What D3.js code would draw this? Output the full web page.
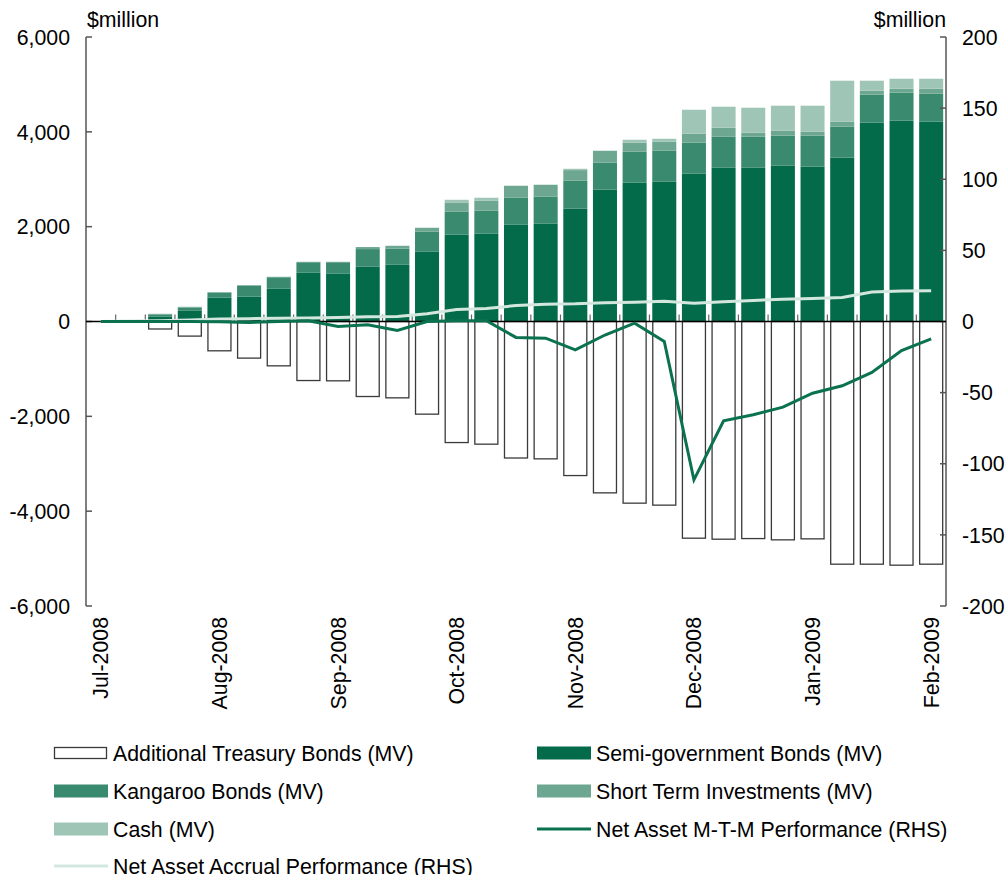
<!DOCTYPE html>
<html lang="en">
  <head>
    <meta charset="utf-8">
    <script src="https://d3js.org/d3.v7.min.js"></script>
    <style>
      body { margin: 0; background: #fff; }
      text { font-family: "Liberation Sans", Arial, sans-serif; fill: #000; }
    </style>
  </head>
  <body>
    <svg id="chart" width="1008" height="875"></svg>
    <script type="text/javascript">

    // weekly observations, Jul-2008 .. Feb-2009
    var weeks = d3.range(29);
    var tickLabels = ["Jul-2008","","","","Aug-2008","","","","Sep-2008","","","","Oct-2008","","","",
                      "Nov-2008","","","","Dec-2008","","","","Jan-2009","","","","Feb-2009"];

    // $million, left axis
    var semiGov   = [0,0,100,225,506,527,690,1027,1006,1154,1196,1470,1829,1850,2040,2061,2378,2779,2926,2947,3116,3242,3242,3285,3264,3454,4192,4234,4213];
    var kangaroo  = [0,0,50,70,100,230,243,222,243,373,344,422,485,485,570,570,590,569,654,654,654,655,655,633,654,654,591,591,591];
    var shortTerm = [0,0,12,15,14,10,10,10,10,43,57,85,197,211,253,253,225,253,190,190,190,190,84,105,84,105,84,84,105];
    var cash      = [0,0,0,0,0,0,0,0,0,0,0,0,56,64,0,0,28,0,63,63,506,443,527,528,549,865,211,211,211];
    var treasury  = [0,0,-158,-308,-618,-772,-935,-1245,-1251,-1582,-1610,-1954,-2553,-2587,-2879,-2897,-3249,-3614,-3831,-3873,-4570,-4591,-4578,-4605,-4584,-5118,-5118,-5139,-5118];

    // $million, right axis
    var mtm     = [0,0,0,0,-0.2,-0.7,0,0.5,-3.5,-2.3,-6.3,0,0.5,0.5,-11.2,-11.7,-19.9,-9.5,-1.2,-14,-111.3,-69.8,-65.6,-60.2,-50.4,-45.2,-35.8,-20.4,-12.2];
    var accrual = [0,0.3,0.6,1,1.7,2,2.3,2.5,2.8,3.3,3.5,5.4,8.4,9.2,11.2,12.2,12.4,13.1,13.6,14.3,12.9,13.8,14.8,15.7,16.2,16.9,20.7,21.4,21.6];

    var leftTicks = [-6000,-4000,-2000,0,2000,4000,6000];
    var rightTicks = [-200,-150,-100,-50,0,50,100,150,200];

    var colors = {
      semi: "#046b4a",
      kangaroo: "#3a8a6f",
      shortTerm: "#6da792",
      cash: "#9fc5b6",
      mtm: "#0b7250",
      accrual: "#d3e7df"
    };

    var fontSize = 21.3;
    var svg = d3.select("#chart");
    var plotLeft = 86, plotRight = 946, plotTop = 37, plotBottom = 606;

    var x = d3.scaleBand()
      .domain(weeks)
      .range([plotLeft, plotRight])
      .paddingInner(0.19)
      .paddingOuter(0.095);
    var yL = d3.scaleLinear().domain([-6000, 6000]).range([plotBottom, plotTop]);
    var yR = d3.scaleLinear().domain([-200, 200]).range([plotBottom, plotTop]);

    var fmt = function(v) { return d3.format(",")(v).replace("\u2212", "-"); };

    // stacked positive bars
    var rows = weeks.map(function(i) {
      return { i: i, semi: semiGov[i], kangaroo: kangaroo[i], shortTerm: shortTerm[i], cash: cash[i] };
    });
    var stack = d3.stack().keys(["semi","kangaroo","shortTerm","cash"])(rows);

    svg.append("g")
      .selectAll("g")
      .data(stack)
      .enter()
      .append("g")
      .attr("fill", function(d) { return colors[d.key]; })
      .selectAll("rect")
      .data(function(d) { return d; })
      .enter()
      .append("rect")
      .attr("x", function(d) { return x(d.data.i); })
      .attr("width", x.bandwidth())
      .attr("y", function(d) { return yL(d[1]); })
      .attr("height", function(d) { return yL(d[0]) - yL(d[1]); });

    // treasury bars (negative, outlined)
    svg.append("g")
      .selectAll("rect")
      .data(weeks.filter(function(i) { return treasury[i] < 0; }))
      .enter()
      .append("rect")
      .attr("x", function(i) { return x(i) + 0.5; })
      .attr("width", x.bandwidth() - 1)
      .attr("y", yL(0))
      .attr("height", function(i) { return yL(treasury[i]) - yL(0); })
      .attr("fill", "#fff")
      .attr("stroke", "#3a3a3a")
      .attr("stroke-width", 1.3);

    // left axis
    var axisL = svg.append("g");
    axisL.append("line")
      .attr("x1", plotLeft).attr("x2", plotLeft)
      .attr("y1", plotTop).attr("y2", plotBottom)
      .attr("stroke", "#555").attr("stroke-width", 1.5);
    axisL.selectAll("line.tick")
      .data(leftTicks)
      .enter()
      .append("line")
      .attr("class", "tick")
      .attr("x1", plotLeft).attr("x2", plotLeft + 6)
      .attr("y1", function(d) { return yL(d); })
      .attr("y2", function(d) { return yL(d); })
      .attr("stroke", "#555").attr("stroke-width", 1.5);
    axisL.selectAll("text")
      .data(leftTicks)
      .enter()
      .append("text")
      .attr("x", 70)
      .attr("y", function(d) { return yL(d); })
      .attr("dy", "0.36em")
      .attr("text-anchor", "end")
      .attr("font-size", fontSize)
      .text(fmt);

    // right axis
    var axisR = svg.append("g");
    axisR.append("line")
      .attr("x1", plotRight).attr("x2", plotRight)
      .attr("y1", plotTop).attr("y2", plotBottom)
      .attr("stroke", "#555").attr("stroke-width", 1.5);
    axisR.selectAll("line.tick")
      .data(rightTicks)
      .enter()
      .append("line")
      .attr("class", "tick")
      .attr("x1", plotRight - 6).attr("x2", plotRight)
      .attr("y1", function(d) { return yR(d); })
      .attr("y2", function(d) { return yR(d); })
      .attr("stroke", "#555").attr("stroke-width", 1.5);
    axisR.selectAll("text")
      .data(rightTicks)
      .enter()
      .append("text")
      .attr("x", 962)
      .attr("y", function(d) { return yR(d); })
      .attr("dy", "0.36em")
      .attr("font-size", fontSize)
      .text(fmt);

    svg.append("text").attr("x", 87).attr("y", 27).attr("font-size", fontSize).text("$million");
    svg.append("text").attr("x", 946).attr("y", 27).attr("font-size", fontSize)
      .attr("text-anchor", "end").text("$million");

    // category axis on zero line
    var step = x.step();
    svg.append("g")
      .selectAll("line")
      .data(d3.range(1, weeks.length))
      .enter()
      .append("line")
      .attr("x1", function(i) { return x(i) - x.paddingInner() * step / 2; })
      .attr("x2", function(i) { return x(i) - x.paddingInner() * step / 2; })
      .attr("y1", yL(0))
      .attr("y2", yL(0) - 7)
      .attr("stroke", "#666")
      .attr("stroke-width", 1.2);

    svg.append("line")
      .attr("x1", plotLeft).attr("x2", plotRight)
      .attr("y1", yL(0)).attr("y2", yL(0))
      .attr("stroke", "#000").attr("stroke-width", 1.5);

    svg.append("g")
      .selectAll("text")
      .data(weeks.filter(function(i) { return tickLabels[i] !== ""; }))
      .enter()
      .append("text")
      .attr("transform", function(i) {
        return "translate(" + (x(i) + x.bandwidth() / 2) + "," + 617 + ") rotate(-90)";
      })
      .attr("dy", "0.35em")
      .attr("text-anchor", "end")
      .attr("font-size", fontSize)
      .text(function(i) { return tickLabels[i]; });

    // lines
    var lineR = function(vals) {
      return d3.line()
        .x(function(i) { return x(i) + x.bandwidth() / 2; })
        .y(function(i) { return yR(vals[i]); })(weeks);
    };
    svg.append("path")
      .attr("d", lineR(accrual))
      .attr("fill", "none")
      .attr("stroke", colors.accrual)
      .attr("stroke-width", 3);
    svg.append("path")
      .attr("d", lineR(mtm))
      .attr("fill", "none")
      .attr("stroke", colors.mtm)
      .attr("stroke-width", 3);

    // legend
    var legend = [
      { name: "Additional Treasury Bonds (MV)", type: "outline", col: 0, row: 0 },
      { name: "Semi-government Bonds (MV)", type: "rect", color: colors.semi, col: 1, row: 0 },
      { name: "Kangaroo Bonds (MV)", type: "rect", color: colors.kangaroo, col: 0, row: 1 },
      { name: "Short Term Investments (MV)", type: "rect", color: colors.shortTerm, col: 1, row: 1 },
      { name: "Cash (MV)", type: "rect", color: colors.cash, col: 0, row: 2 },
      { name: "Net Asset M-T-M Performance (RHS)", type: "line", color: colors.mtm, col: 1, row: 2 },
      { name: "Net Asset Accrual Performance (RHS)", type: "line", color: colors.accrual, col: 0, row: 3 }
    ];
    var colX = [54, 537];
    var rowY = [753, 791, 829, 866];

    svg.append("g")
      .selectAll("g")
      .data(legend)
      .enter()
      .append("g")
      .each(function(d) {
        var g = d3.select(this);
        var sx = colX[d.col], cy = rowY[d.row];
        if (d.type === "outline") {
          g.append("rect")
            .attr("x", sx + 0.5).attr("y", cy - 5.5)
            .attr("width", 52).attr("height", 11)
            .attr("fill", "#fff").attr("stroke", "#3a3a3a").attr("stroke-width", 1.3);
        } else if (d.type === "rect") {
          g.append("rect")
            .attr("x", sx).attr("y", cy - 6.5)
            .attr("width", 54).attr("height", 13)
            .attr("fill", d.color);
        } else {
          g.append("line")
            .attr("x1", sx).attr("x2", sx + 54)
            .attr("y1", cy).attr("y2", cy)
            .attr("stroke", d.color).attr("stroke-width", 3);
        }
        g.append("text")
          .attr("x", sx + 59)
          .attr("y", cy + 7.5)
          .attr("font-size", fontSize)
          .text(d.name);
      });

    </script>
  </body>
</html>
